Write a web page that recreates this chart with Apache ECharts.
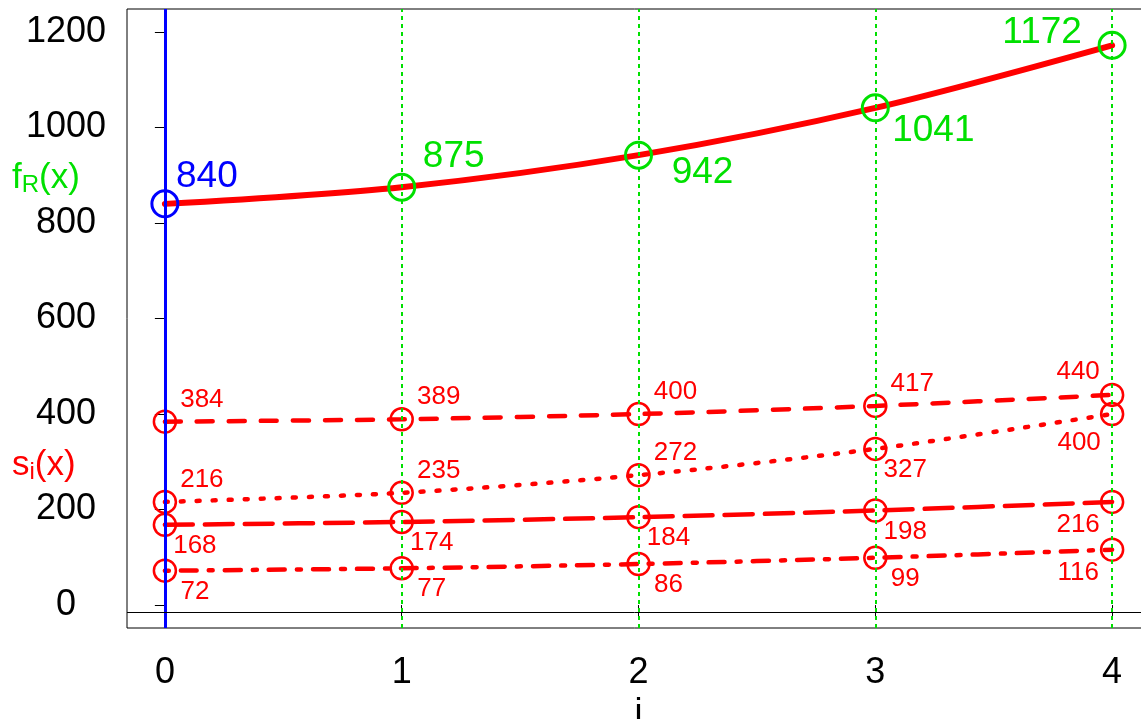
<!DOCTYPE html>
<html>
<head>
<meta charset="utf-8">
<script src="https://cdn.jsdelivr.net/npm/echarts@6/dist/echarts.min.js"></script>
<style>
  html, body { margin: 0; padding: 0; background: #fff; }
  #chart { width: 1141px; height: 719px; }
</style>
</head>
<body>
<div id="chart"></div>
<script>
(function () {
var myChart = echarts.init(document.getElementById('chart'));

// data
var iValues = [0, 1, 2, 3, 4];
var fR = [840, 875, 942, 1041, 1172];
var sDashed = [384, 389, 400, 417, 440];
var sDotted = [216, 235, 272, 327, 400];
var sLongDash = [168, 174, 184, 198, 216];
var sDotDash = [72, 77, 86, 99, 116];
var xTicks = [0, 1, 2, 3, 4];
var yTicks = [0, 200, 400, 600, 800, 1000, 1200];

var RED = '#ff0000', GREEN = '#00e000', BLUE = '#0000ff';
var FONT = '"Liberation Sans", Arial, sans-serif';

// label offsets from the point centre (pixels)
var fROffsets = [[42, -27], [52, -30], [64, 18], [58, 23], [-70, -13]];
var place = {
    ur: [37, -22], lr: [30, 21], ll: [-34, 23], ul: [-34, -23], ll2: [-33, 29]
};
var dashedPlace = ['ur', 'ur', 'ur', 'ur', 'ul'];
var dottedPlace = ['ur', 'ur', 'ur', 'lr', 'll2'];
var longPlace = ['lr', 'lr', 'lr', 'lr', 'll'];
var dotDashPlace = ['lr', 'lr', 'lr', 'lr', 'll'];

function siSeries(name, vals, places, dash) {
    return {
        name: name,
        type: 'line',
        z: 3,
        smooth: 0.3,
        symbol: 'circle',
        symbolSize: 22,
        showAllSymbol: true,
        lineStyle: { color: RED, width: 4.5, type: dash, cap: 'round' },
        itemStyle: { color: 'rgba(0,0,0,0)', borderColor: RED, borderWidth: 2.5 },
        label: {
            show: true,
            position: 'inside',
            color: RED,
            fontSize: 26,
            fontFamily: FONT,
            formatter: function (p) { return p.value[1]; }
        },
        data: vals.map(function (v, k) {
            return { value: [iValues[k], v], label: { offset: place[places[k]] } };
        })
    };
}

var topSeries = {
    name: 'fR',
    type: 'line',
    z: 4,
    smooth: 0.3,
    symbol: 'circle',
    symbolSize: 26,
    showAllSymbol: true,
    lineStyle: { color: RED, width: 6, cap: 'round' },
    itemStyle: { color: 'rgba(0,0,0,0)', borderColor: GREEN, borderWidth: 3 },
    label: {
        show: true,
        position: 'inside',
        color: GREEN,
        fontSize: 37,
        fontFamily: FONT,
        formatter: function (p) { return p.value[1]; }
    },
    data: fR.map(function (v, k) {
        var item = { value: [iValues[k], v], label: { offset: fROffsets[k] } };
        if (k === 0) {
            item.itemStyle = { borderColor: BLUE };
            item.label.color = BLUE;
        }
        return item;
    })
};

var guides = {
    type: 'line',
    z: 1,
    data: [],
    markLine: {
        silent: true,
        symbol: ['none', 'none'],
        label: { show: false },
        animation: false,
        data: [
            { xAxis: 0, lineStyle: { color: BLUE, width: 3, type: 'solid' } },
            { xAxis: 1, lineStyle: { color: GREEN, width: 2, type: [4, 4] } },
            { xAxis: 2, lineStyle: { color: GREEN, width: 2, type: [4, 4] } },
            { xAxis: 3, lineStyle: { color: GREEN, width: 2, type: [4, 4] } },
            { xAxis: 4, lineStyle: { color: GREEN, width: 2, type: [4, 4] } },
            { yAxis: -15, lineStyle: { color: '#000', width: 1, type: 'solid' } }
        ]
    }
};

var option = {
    animation: false,
    backgroundColor: '#fff',
    textStyle: { fontFamily: FONT },
    grid: {
        left: 127, top: 9, right: -9, bottom: 91,
        outerBoundsMode: 'none',
        containLabel: false,
        show: true, borderColor: '#000', borderWidth: 1,
        backgroundColor: 'rgba(0,0,0,0)'
    },
    xAxis: {
        type: 'value',
        min: -0.16,
        max: 4.16,
        axisLine: { show: false },
        splitLine: { show: false },
        axisTick: { customValues: xTicks, length: 12, lineStyle: { color: '#000' } },
        axisLabel: { customValues: xTicks, fontSize: 36, color: '#000', margin: 27, fontFamily: FONT },
        name: 'i',
        nameLocation: 'middle',
        nameGap: 62,
        nameTextStyle: { fontSize: 36, color: '#000', fontFamily: FONT }
    },
    yAxis: {
        type: 'value',
        min: -48,
        max: 1248,
        axisLine: { show: false },
        splitLine: { show: false },
        axisTick: { customValues: yTicks, length: 10, lineStyle: { color: '#000' } },
        axisLabel: {
            customValues: yTicks, fontSize: 36, color: '#000', margin: 61, align: 'center', fontFamily: FONT,
            padding: [14, 0, 0, 0],
            formatter: function (v) { return String(v); }
        }
    },
    graphic: [
        {
            type: 'text', left: 12, top: 161,
            style: {
                text: '{a|f}{b|R}{a|(x)}',
                rich: {
                    a: { fontSize: 35, fill: GREEN, fontFamily: FONT },
                    b: { fontSize: 24, fill: GREEN, fontFamily: FONT, padding: [14, 0, 0, 0] }
                }
            }
        },
        {
            type: 'text', left: 12, top: 448,
            style: {
                text: '{a|s}{b|i}{a|(x)}',
                rich: {
                    a: { fontSize: 35, fill: RED, fontFamily: FONT },
                    b: { fontSize: 24, fill: RED, fontFamily: FONT, padding: [14, 0, 0, 0] }
                }
            }
        }
    ],
    series: [
        guides,
        siSeries('s1', sDashed, dashedPlace, [16, 16]),
        siSeries('s2', sDotted, dottedPlace, [3, 13]),
        siSeries('s3', sLongDash, longPlace, [28, 12]),
        siSeries('s4', sDotDash, dotDashPlace, [4, 12, 16, 12]),
        topSeries
    ]
};

myChart.setOption(option);
window.addEventListener('resize', function () {
    myChart.resize();
});
})();
</script>
</body>
</html>
